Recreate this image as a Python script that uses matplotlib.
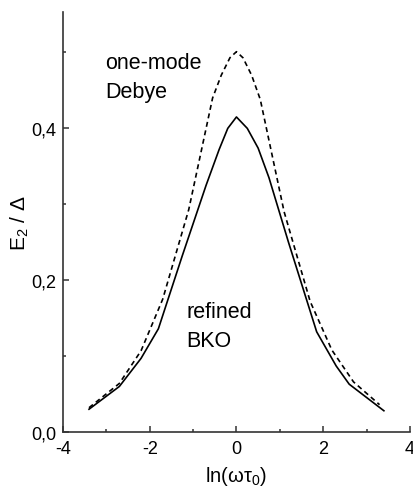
import matplotlib
matplotlib.use('Agg')
from matplotlib import pyplot as plt
from matplotlib.ticker import MultipleLocator, FuncFormatter

plt.rcParams['font.family'] = ['Liberation Sans', 'DejaVu Sans']
plt.rcParams['mathtext.default'] = 'regular'
plt.rcParams['axes.unicode_minus'] = False

# refined BKO (solid)
bko_x = [-3.4, -2.7, -2.2, -1.8, -1.25, -0.7, -0.4, -0.2, 0.0, 0.25, 0.5, 0.75, 1.2, 1.85, 2.3, 2.6, 3.4]
bko_y = [0.030, 0.060, 0.097, 0.136, 0.232, 0.325, 0.372, 0.400, 0.415, 0.400, 0.374, 0.335, 0.250, 0.132, 0.087, 0.063, 0.028]

# one-mode Debye (dashed)
debye_x = [-3.4, -2.7, -2.2, -1.7, -1.1, -0.55, -0.35, -0.15, 0.0, 0.15, 0.35, 0.55, 1.1, 1.7, 2.2, 2.7, 3.3]
debye_y = [0.032, 0.064, 0.107, 0.175, 0.293, 0.440, 0.470, 0.493, 0.501, 0.493, 0.470, 0.438, 0.290, 0.172, 0.108, 0.066, 0.036]

fig = plt.figure(figsize=(4.13, 4.89), dpi=100)
ax = fig.add_axes([0.1525, 0.1145, 0.840, 0.8585])

ax.plot(bko_x, bko_y, color='black', lw=1.2)
ax.plot(debye_x, debye_y, color='black', lw=1.2, dashes=(3, 2.2))

ax.set_xlim(-4, 4)
ax.set_ylim(0, 0.553)

for s in ['top', 'right']:
    ax.spines[s].set_visible(False)
for s in ['left', 'bottom']:
    ax.spines[s].set_linewidth(1.2)
    ax.spines[s].set_color('#333333')

ax.xaxis.set_major_locator(MultipleLocator(2))
ax.xaxis.set_minor_locator(MultipleLocator(1))
ax.yaxis.set_major_locator(MultipleLocator(0.2))
ax.yaxis.set_minor_locator(MultipleLocator(0.1))
ax.yaxis.set_major_formatter(FuncFormatter(lambda v, p: '{:.1f}'.format(v).replace('.', ',')))
ax.xaxis.set_major_formatter(FuncFormatter(lambda v, p: '{:d}'.format(int(round(v)))))
ax.tick_params(which='major', direction='in', length=4, width=1.1, labelsize=13, color='#333333')
ax.tick_params(axis='x', which='major', pad=6)
ax.tick_params(axis='y', which='major', pad=5)
ax.tick_params(which='minor', direction='in', length=2.5, width=1.1, color='#333333')

ax.set_xlabel('ln(ωτ$_0$)', fontsize=14.5, labelpad=5)
ax.set_ylabel('E$_2$ / Δ', fontsize=15, labelpad=0)

ax.text(-3.03, 0.48, 'one-mode', fontsize=15.5, va='baseline')
ax.text(-3.03, 0.441, 'Debye', fontsize=15.5, va='baseline')
ax.text(-1.16, 0.151, 'refined', fontsize=15.5, va='baseline')
ax.text(-1.16, 0.1136, 'BKO', fontsize=15.5, va='baseline')

fig.savefig('out.png', dpi=100)
